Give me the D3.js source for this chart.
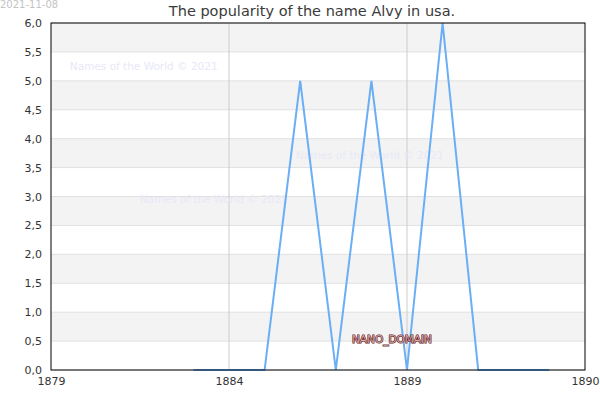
<!DOCTYPE html>
<html lang='en'>
  <head>
    <meta charset="utf-8">
    <style>
      body { margin: 0; background: #fff; }
      text { font-family: "DejaVu Sans", sans-serif; }
    </style>
    <script src="https://d3js.org/d3.v7.min.js"></script>
  </head>
  <body>
    <div id="chart"></div>
  <script>

    // data
    var years = [1883, 1884, 1885, 1886, 1887, 1888, 1889, 1890, 1891, 1892, 1893];
    var counts = [0, 0, 0, 5, 0, 5, 0, 6, 0, 0, 0];
    var xTicks = [1879, 1884, 1889, 1894];
    var xTickLabels = ["1879", "1884", "1889", "1890"];
    var yTicks = [0, 0.5, 1, 1.5, 2, 2.5, 3, 3.5, 4, 4.5, 5, 5.5, 6];
    var watermarks = [[1879.53, 5.19], [1881.5, 2.89], [1885.88, 3.65]];

    var margin = {top: 23, right: 15, bottom: 30, left: 51},
        width = 600 - margin.left - margin.right,
        height = 400 - margin.top - margin.bottom;

    var root = d3.select("#chart")
      .append("svg")
        .attr("width", 600)
        .attr("height", 400);

    var svg = root.append("g")
        .attr("transform", "translate(" + margin.left + "," + margin.top + ")");

    var x = d3.scaleLinear()
      .domain([1879, 1894])
      .range([0, width]);

    var y = d3.scaleLinear()
      .domain([0, 6])
      .range([height, 0]);

    // alternating bands
    var bands = d3.range(0, yTicks.length - 1).filter(function(i){ return i % 2 == 1 });
    svg.selectAll("band")
      .data(bands)
      .enter()
      .append("rect")
        .attr("x", 0)
        .attr("width", width)
        .attr("y", function(i){ return y(yTicks[i + 1]) })
        .attr("height", function(i){ return y(yTicks[i]) - y(yTicks[i + 1]) })
        .style("fill", "#f3f3f3")

    // horizontal grid
    svg.selectAll("hgrid")
      .data(yTicks)
      .enter()
      .append("line")
        .attr("x1", 0).attr("x2", width)
        .attr("y1", function(d){ return y(d) }).attr("y2", function(d){ return y(d) })
        .style("stroke", "#e0e0e0")

    // vertical grid
    svg.selectAll("vgrid")
      .data(xTicks.slice(1, -1))
      .enter()
      .append("line")
        .attr("y1", 0).attr("y2", height)
        .attr("x1", function(d){ return x(d) }).attr("x2", function(d){ return x(d) })
        .style("stroke", "#cccccc")

    // watermarks
    svg.selectAll("wm")
      .data(watermarks)
      .enter()
      .append("text")
        .attr("x", function(d){ return x(d[0]) })
        .attr("y", function(d){ return y(d[1]) })
        .text("Names of the World © 2021")
        .style("font-size", "10.5px")
        .style("fill", "#e8e8f8")

    // line
    var line = d3.line()
      .x(function(d, i){ return x(years[i]) })
      .y(function(d){ return y(d) });
    svg.append("path")
      .attr("d", line(counts))
      .style("fill", "none")
      .style("stroke", "#6aaef5")
      .style("stroke-width", 2)

    // frame
    svg.append("rect")
      .attr("width", width)
      .attr("height", height)
      .style("fill", "none")
      .style("stroke", "#000")

    // axes
    svg.append("g")
      .attr("transform", "translate(0," + height + ")")
      .call(d3.axisBottom(x).tickValues(xTicks).tickSize(0).tickPadding(7)
        .tickFormat(function(d, i){ return xTickLabels[i] }));
    svg.append("g")
      .call(d3.axisLeft(y).tickValues(yTicks).tickSize(0).tickPadding(9)
        .tickFormat(function(d){ return d3.format(".1f")(d).replace(".", ",") }));
    svg.selectAll(".domain").remove();
    svg.selectAll(".tick text")
      .style("font-family", "DejaVu Sans")
      .style("font-size", "11px")
      .style("fill", "#333");

    // title and date
    root.append("text")
      .attr("x", 312)
      .attr("y", 16)
      .attr("text-anchor", "middle")
      .text("The popularity of the name Alvy in usa.")
      .style("font-size", "14.5px")
      .style("fill", "#3a3a3a")
    root.append("text")
      .attr("x", 0)
      .attr("y", 8)
      .text("2021-11-08")
      .style("font-size", "10px")
      .style("fill", "#c4c4c4")

    // domain label
    root.append("text")
      .attr("x", 352)
      .attr("y", 343)
      .text("NANO_DOMAIN")
      .style("font-size", "10.5px")
      .style("fill", "#d9a8a8")
      .style("stroke", "#5a1414")
      .style("stroke-width", 1.2)
      .style("paint-order", "stroke")

  </script>
  </body>
</html>
